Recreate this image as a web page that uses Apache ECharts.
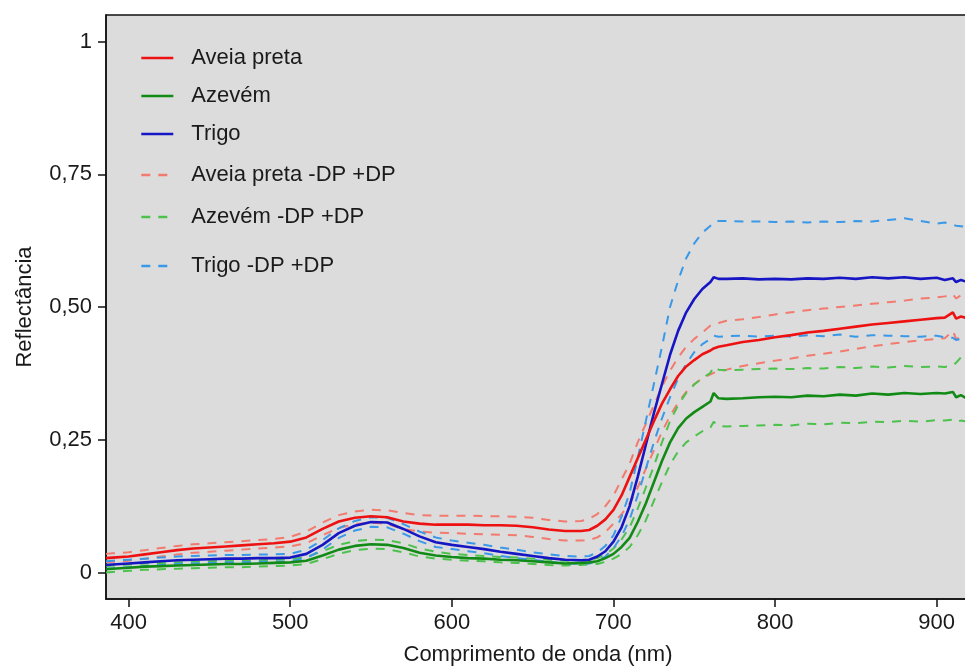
<!DOCTYPE html>
<html>
<head>
<meta charset="utf-8">
<script src="https://cdn.jsdelivr.net/npm/echarts@6/dist/echarts.min.js"></script>
<style>
  html, body { margin: 0; padding: 0; background: #ffffff; }
  #chart { width: 965px; height: 666px; }
</style>
</head>
<body>
<div id="chart"></div>
<script>
// Wavelength (nm) of each spectral sample
const wavelengths = [386, 390, 400, 410, 420, 430, 440, 450, 460, 470, 480, 490, 500, 510, 520, 530, 540, 550, 560, 570, 580, 590, 600, 610, 620, 630, 640, 650, 660, 670, 680, 685, 690, 695, 700, 705, 710, 715, 720, 725, 730, 735, 740, 745, 750, 755, 760, 762, 765, 770, 780, 790, 800, 810, 820, 830, 840, 850, 860, 870, 880, 890, 900, 905, 910, 912, 915, 920];

// Mean reflectance per species
const aveiaMean = [0.027, 0.028, 0.030, 0.034, 0.038, 0.042, 0.045, 0.047, 0.049, 0.051, 0.053, 0.055, 0.058, 0.066, 0.082, 0.096, 0.103, 0.106, 0.104, 0.096, 0.092, 0.090, 0.090, 0.090, 0.089, 0.089, 0.088, 0.085, 0.081, 0.078, 0.078, 0.080, 0.088, 0.100, 0.118, 0.145, 0.180, 0.215, 0.250, 0.285, 0.318, 0.345, 0.370, 0.388, 0.400, 0.411, 0.418, 0.422, 0.425, 0.428, 0.434, 0.438, 0.443, 0.447, 0.452, 0.455, 0.459, 0.463, 0.467, 0.470, 0.473, 0.476, 0.479, 0.480, 0.490, 0.478, 0.482, 0.478];
const azevemMean = [0.006, 0.007, 0.009, 0.011, 0.012, 0.013, 0.014, 0.015, 0.016, 0.016, 0.017, 0.018, 0.019, 0.022, 0.032, 0.043, 0.050, 0.053, 0.052, 0.046, 0.037, 0.032, 0.029, 0.027, 0.026, 0.024, 0.023, 0.021, 0.019, 0.017, 0.018, 0.019, 0.021, 0.027, 0.035, 0.048, 0.065, 0.095, 0.130, 0.170, 0.210, 0.245, 0.272, 0.290, 0.302, 0.312, 0.322, 0.338, 0.328, 0.327, 0.328, 0.330, 0.331, 0.330, 0.333, 0.332, 0.335, 0.333, 0.337, 0.335, 0.338, 0.336, 0.338, 0.337, 0.340, 0.330, 0.334, 0.325];
const trigoMean = [0.014, 0.015, 0.017, 0.019, 0.021, 0.023, 0.024, 0.025, 0.026, 0.026, 0.027, 0.027, 0.028, 0.035, 0.052, 0.074, 0.088, 0.095, 0.094, 0.082, 0.068, 0.057, 0.052, 0.048, 0.044, 0.039, 0.035, 0.031, 0.027, 0.024, 0.023, 0.024, 0.030, 0.040, 0.058, 0.085, 0.125, 0.180, 0.240, 0.300, 0.355, 0.410, 0.455, 0.490, 0.515, 0.534, 0.547, 0.556, 0.553, 0.553, 0.554, 0.552, 0.553, 0.552, 0.554, 0.553, 0.555, 0.553, 0.556, 0.554, 0.556, 0.553, 0.555, 0.551, 0.554, 0.547, 0.551, 0.546];

// Mean + standard deviation
const aveiaUpper = [0.035, 0.036, 0.038, 0.042, 0.046, 0.050, 0.053, 0.055, 0.057, 0.059, 0.061, 0.063, 0.067, 0.077, 0.094, 0.108, 0.115, 0.118, 0.117, 0.112, 0.108, 0.107, 0.107, 0.107, 0.106, 0.106, 0.105, 0.103, 0.099, 0.096, 0.097, 0.101, 0.110, 0.125, 0.145, 0.175, 0.205, 0.245, 0.280, 0.315, 0.350, 0.380, 0.405, 0.425, 0.440, 0.452, 0.465, 0.468, 0.470, 0.474, 0.477, 0.481, 0.486, 0.490, 0.494, 0.497, 0.500, 0.503, 0.506, 0.509, 0.512, 0.516, 0.518, 0.520, 0.524, 0.516, 0.522, 0.520];
const azevemUpper = [0.012, 0.013, 0.015, 0.017, 0.018, 0.019, 0.020, 0.021, 0.022, 0.022, 0.023, 0.024, 0.025, 0.029, 0.040, 0.052, 0.059, 0.062, 0.061, 0.055, 0.045, 0.039, 0.035, 0.033, 0.031, 0.029, 0.028, 0.026, 0.024, 0.022, 0.023, 0.024, 0.027, 0.034, 0.045, 0.062, 0.085, 0.120, 0.160, 0.200, 0.245, 0.285, 0.315, 0.338, 0.354, 0.366, 0.376, 0.387, 0.382, 0.381, 0.382, 0.383, 0.384, 0.383, 0.385, 0.384, 0.387, 0.385, 0.388, 0.386, 0.389, 0.387, 0.388, 0.387, 0.390, 0.395, 0.405, 0.415];
const trigoUpper = [0.021, 0.022, 0.024, 0.026, 0.028, 0.030, 0.031, 0.032, 0.033, 0.033, 0.034, 0.034, 0.035, 0.043, 0.061, 0.083, 0.097, 0.104, 0.103, 0.091, 0.077, 0.066, 0.060, 0.056, 0.052, 0.047, 0.043, 0.038, 0.034, 0.031, 0.030, 0.031, 0.038, 0.050, 0.070, 0.105, 0.150, 0.215, 0.285, 0.355, 0.425, 0.500, 0.550, 0.592, 0.620, 0.640, 0.653, 0.660, 0.662, 0.662, 0.661, 0.661, 0.660, 0.661, 0.659, 0.661, 0.660, 0.662, 0.661, 0.664, 0.667, 0.662, 0.657, 0.659, 0.655, 0.653, 0.652, 0.650];

// Mean - standard deviation
const aveiaLower = [0.019, 0.020, 0.022, 0.026, 0.030, 0.034, 0.037, 0.039, 0.041, 0.043, 0.045, 0.047, 0.049, 0.055, 0.070, 0.084, 0.091, 0.094, 0.091, 0.082, 0.077, 0.075, 0.074, 0.073, 0.072, 0.071, 0.070, 0.067, 0.063, 0.060, 0.060, 0.061, 0.066, 0.076, 0.092, 0.110, 0.130, 0.160, 0.195, 0.230, 0.265, 0.295, 0.320, 0.340, 0.355, 0.366, 0.373, 0.376, 0.379, 0.382, 0.389, 0.394, 0.399, 0.403, 0.408, 0.412, 0.416, 0.421, 0.426, 0.430, 0.434, 0.437, 0.440, 0.441, 0.455, 0.440, 0.443, 0.436];
const azevemLower = [0.000, 0.001, 0.003, 0.005, 0.006, 0.007, 0.008, 0.009, 0.010, 0.010, 0.011, 0.012, 0.013, 0.016, 0.025, 0.035, 0.042, 0.045, 0.044, 0.038, 0.030, 0.026, 0.024, 0.022, 0.021, 0.019, 0.018, 0.016, 0.014, 0.013, 0.014, 0.015, 0.016, 0.020, 0.026, 0.035, 0.048, 0.070, 0.098, 0.135, 0.170, 0.203, 0.228, 0.245, 0.256, 0.266, 0.273, 0.284, 0.276, 0.275, 0.276, 0.277, 0.278, 0.277, 0.280, 0.279, 0.282, 0.281, 0.284, 0.283, 0.286, 0.284, 0.287, 0.286, 0.288, 0.284, 0.286, 0.284];
const trigoLower = [0.007, 0.008, 0.010, 0.012, 0.014, 0.016, 0.017, 0.018, 0.019, 0.019, 0.020, 0.020, 0.021, 0.027, 0.043, 0.065, 0.079, 0.086, 0.085, 0.073, 0.059, 0.048, 0.044, 0.040, 0.036, 0.031, 0.027, 0.024, 0.020, 0.017, 0.016, 0.017, 0.022, 0.030, 0.046, 0.068, 0.100, 0.145, 0.195, 0.245, 0.290, 0.330, 0.365, 0.393, 0.415, 0.430, 0.440, 0.446, 0.444, 0.445, 0.446, 0.444, 0.446, 0.444, 0.447, 0.445, 0.448, 0.444, 0.447, 0.446, 0.445, 0.444, 0.446, 0.443, 0.442, 0.438, 0.440, 0.430];

// Axis tick positions
const xTicks = [400, 500, 600, 700, 800, 900];
const yTicks = [0, 0.25, 0.5, 0.75, 1];

const FONT = "'Liberation Sans', Arial, sans-serif";
const FS = 22;

function pairs(vals) {
  return wavelengths.map((w, i) => [w, vals[i]]);
}

function solid(name, color, vals) {
  return {
    name: name, type: 'line', data: pairs(vals), showSymbol: false, symbol: 'none',
    lineStyle: { color: color, width: 2.6 }, itemStyle: { color: color },
    z: 5, animation: false, silent: true
  };
}

function dashed(name, color, vals) {
  return {
    name: name, type: 'line', data: pairs(vals), showSymbol: false, symbol: 'none',
    lineStyle: { color: color, width: 2, type: [9, 8] }, itemStyle: { color: color },
    z: 3, animation: false, silent: true
  };
}

const C = {
  aveia: '#ee1111', azevem: '#128a16', trigo: '#1616c4',
  aveiaDP: '#f27a6e', azevemDP: '#4cc24c', trigoDP: '#3a98e8'
};

const legendRows = [
  ['Aveia preta', 58],
  ['Azevém', 96],
  ['Trigo', 134],
  ['Aveia preta -DP +DP', 175],
  ['Azevém -DP +DP', 217],
  ['Trigo -DP +DP', 266]
];

const legends = legendRows.map(([name, cy]) => ({
  data: [name], left: 140, top: cy - 11, padding: 0, orient: 'vertical',
  itemWidth: 32, itemHeight: 22, selectedMode: false,
  itemStyle: { opacity: 0 },
  lineStyle: { width: 2.6 },
  textStyle: { fontFamily: FONT, fontSize: FS, color: '#1a1a1a', padding: [0, 0, 0, 13], lineHeight: 22 }
}));

const chart = echarts.init(document.getElementById('chart'), null, { renderer: 'canvas' });
chart.setOption({
  backgroundColor: '#ffffff',
  animation: false,
  legend: legends,
  grid: {
    left: 106, top: 15, width: 864, height: 584,
    show: true, backgroundColor: '#dcdcdc', borderColor: '#111111', borderWidth: 1.5,
    outerBoundsMode: 'none', containLabel: false
  },
  xAxis: {
    type: 'value', min: 386, max: 920.6,
    name: 'Comprimento de onda (nm)', nameLocation: 'middle', nameGap: 45,
    nameTextStyle: { fontFamily: FONT, fontSize: FS, color: '#1a1a1a' },
    axisLine: { show: true, onZero: false, lineStyle: { color: '#111111', width: 1.5 } },
    axisTick: { show: true, length: 8, customValues: xTicks, lineStyle: { color: '#111111', width: 1.5 } },
    axisLabel: { customValues: xTicks, margin: 13, fontFamily: FONT, fontSize: FS, color: '#1a1a1a' },
    splitLine: { show: false }
  },
  yAxis: {
    type: 'value', min: -0.05, max: 1.05,
    name: 'Reflectância', nameLocation: 'middle', nameGap: 70, nameRotate: 90,
    nameTextStyle: { fontFamily: FONT, fontSize: FS, color: '#1a1a1a' },
    axisLine: { show: true, onZero: false, lineStyle: { color: '#111111', width: 1.5 } },
    axisTick: { show: true, length: 8, customValues: yTicks, lineStyle: { color: '#111111', width: 1.5 } },
    axisLabel: {
      customValues: yTicks, margin: 14, fontFamily: FONT, fontSize: FS, color: '#1a1a1a',
      formatter: v => (v === 0 ? '0' : v === 1 ? '1' : v.toFixed(2).replace('.', ','))
    },
    splitLine: { show: false }
  },
  series: [
    dashed('Aveia preta -DP +DP', C.aveiaDP, aveiaUpper),
    dashed('Aveia preta -DP +DP', C.aveiaDP, aveiaLower),
    dashed('Azevém -DP +DP', C.azevemDP, azevemUpper),
    dashed('Azevém -DP +DP', C.azevemDP, azevemLower),
    dashed('Trigo -DP +DP', C.trigoDP, trigoUpper),
    dashed('Trigo -DP +DP', C.trigoDP, trigoLower),
    solid('Azevém', C.azevem, azevemMean),
    solid('Trigo', C.trigo, trigoMean),
    solid('Aveia preta', C.aveia, aveiaMean)
  ]
});
</script>
</body>
</html>
